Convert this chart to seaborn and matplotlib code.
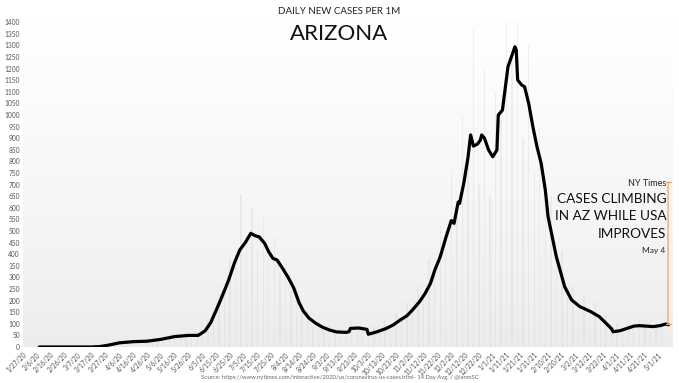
import numpy as np
import pandas as pd
import matplotlib
matplotlib.use("Agg")
import matplotlib.pyplot as plt
import seaborn as sns
from matplotlib.colors import LinearSegmentedColormap

# ---------------- data ----------------
start_date = "2020-01-27"
tick_labels = ["1/27/20", "2/6/20", "2/16/20", "2/26/20", "3/7/20", "3/17/20", "3/27/20",
               "4/6/20", "4/16/20", "4/26/20", "5/6/20", "5/16/20", "5/26/20", "6/5/20",
               "6/15/20", "6/25/20", "7/5/20", "7/15/20", "7/25/20", "8/4/20", "8/14/20",
               "8/24/20", "9/3/20", "9/13/20", "9/23/20", "10/3/20", "10/13/20", "10/23/20",
               "11/2/20", "11/12/20", "11/22/20", "12/2/20", "12/12/20", "12/22/20", "1/1/21",
               "1/11/21", "1/21/21", "1/31/21", "2/10/21", "2/20/21", "3/2/21", "3/12/21",
               "3/22/21", "4/1/21", "4/11/21", "4/21/21", "5/1/21"]
y_ticks = list(range(0, 1401, 50))

line_dates = ["2020-02-08", "2020-03-17", "2020-03-23", "2020-03-29", "2020-04-06", "2020-04-16",
              "2020-04-26", "2020-05-06", "2020-05-16", "2020-05-26", "2020-06-02", "2020-06-07",
              "2020-06-11", "2020-06-15", "2020-06-19", "2020-06-24", "2020-06-28", "2020-07-02",
              "2020-07-06", "2020-07-10", "2020-07-13", "2020-07-16", "2020-07-20", "2020-07-23",
              "2020-07-26", "2020-07-29", "2020-08-02", "2020-08-06", "2020-08-10", "2020-08-14",
              "2020-08-17", "2020-08-21", "2020-08-26", "2020-08-31", "2020-09-05", "2020-09-10",
              "2020-09-17", "2020-09-19", "2020-09-20", "2020-09-26", "2020-10-02", "2020-10-03",
              "2020-10-09", "2020-10-16", "2020-10-21", "2020-10-26", "2020-10-31", "2020-11-04",
              "2020-11-09", "2020-11-13", "2020-11-17", "2020-11-20", "2020-11-24", "2020-11-28",
              "2020-12-02", "2020-12-04", "2020-12-07", "2020-12-08", "2020-12-11", "2020-12-14",
              "2020-12-16", "2020-12-18", "2020-12-21", "2020-12-23", "2020-12-24", "2020-12-26",
              "2020-12-29", "2021-01-01", "2021-01-04", "2021-01-05", "2021-01-08", "2021-01-12",
              "2021-01-15", "2021-01-17", "2021-01-18", "2021-01-19", "2021-01-22", "2021-01-24",
              "2021-01-27", "2021-01-30", "2021-02-02", "2021-02-05", "2021-02-08", "2021-02-10",
              "2021-02-11", "2021-02-16", "2021-02-22", "2021-02-27", "2021-03-05", "2021-03-13",
              "2021-03-19", "2021-03-24", "2021-03-28", "2021-03-29", "2021-04-03", "2021-04-08",
              "2021-04-13", "2021-04-17", "2021-04-27", "2021-05-02", "2021-05-06", "2021-05-08"]
line_values = [0, 0, 2, 8, 18, 23,
               25, 33, 45, 50, 50, 70,
               105, 159, 215, 289, 360, 418,
               450, 490, 480, 475, 447, 410,
               382, 375, 339, 300, 255, 190,
               155, 125, 102, 85, 73, 65,
               63, 66, 80, 82, 76, 55,
               65, 80, 95, 116, 135, 160,
               195, 230, 275, 330, 389, 470,
               545, 533, 625, 619, 705, 813,
               914, 866, 875, 892, 914, 900,
               849, 820, 849, 1000, 1021, 1208,
               1259, 1294, 1280, 1151, 1129, 1122,
               1050, 950, 863, 792, 677, 562,
               533, 389, 260, 203, 174, 152,
               131, 102, 78, 66, 70, 80,
               90, 92, 88, 92, 99, 96]

# daily-report spikes (sampled every 2 days from bar_start)
bar_start = "2020-03-13"
bar_values = [0, 1, 2, 5, 10, 15, 25, 15, 28, 20, 30, 22, 35, 28, 45, 30, 60, 40, 65, 45,
              70, 55, 120, 130, 230, 260, 380, 420, 660, 480, 600, 420, 560, 380, 470, 320,
              380, 240, 260, 150, 160, 90, 120, 70, 95, 55, 85, 60, 110, 70, 95, 40, 90, 70,
              110, 85, 150, 110, 190, 160, 260, 220, 380, 330, 520, 450, 760, 600, 1000, 850,
              1380, 700, 1200, 650, 1100, 980, 1400, 1250, 1400, 900, 1300, 750, 950, 600,
              650, 380, 420, 230, 260, 160, 220, 130, 190, 110, 140, 60, 100, 70, 110, 80,
              120, 85, 115, 90, 110]
bar_step_days = 4

title_small = "DAILY NEW CASES PER 1M"
title_big = "ARIZONA"
note_lines = ["CASES CLIMBING", "IN AZ WHILE USA", "IMPROVES"]
note_top = "NY Times"
note_bottom = "May 4"
source = ("Source: https://www.nytimes.com/interactive/2020/us/coronavirus-us-cases.html- "
          "14 Day Avg. / @ianmSC")

# ---------------- build frames ----------------
t0 = pd.Timestamp(start_date)
line_df = pd.DataFrame({"day": (pd.to_datetime(line_dates) - t0).days, "value": line_values})
bar_dates = pd.date_range(bar_start, periods=len(bar_values), freq=f"{bar_step_days}D")
bar_df = pd.DataFrame({"day": (bar_dates - t0).days, "value": bar_values})

sns.set_theme(style="white")
plt.rcParams["font.family"] = ["Lato", "DejaVu Sans"]

fig = plt.figure(figsize=(6.79, 3.83), dpi=100)
ax = fig.add_axes([0.0334, 0.094, 0.956, 0.854])

xmin, xmax = 0, 469.5
ymin, ymax = 0, 1410
# gradient background
cmap = LinearSegmentedColormap.from_list("bg", ["#ececec", "#ffffff"])
grad = np.linspace(0, 1, 256).reshape(-1, 1) ** 0.8
ax.imshow(grad, cmap=cmap, aspect="auto", extent=[xmin, xmax, ymin, ymax],
          origin="lower", zorder=0, vmin=0, vmax=1)

ax.bar(bar_df["day"], bar_df["value"], width=1.0, color="#d6d6d6", alpha=0.35,
       linewidth=0, zorder=1)
sns.lineplot(data=line_df, x="day", y="value", ax=ax, color="black", linewidth=2.3,
             zorder=3, legend=False)

ax.set_xlim(xmin, xmax)
ax.set_ylim(ymin, ymax)
ax.set_xticks(np.arange(len(tick_labels)) * 10)
ax.set_xticklabels(tick_labels, rotation=45, ha="right", rotation_mode="anchor",
                   fontsize=4.8, color="#555555")
ax.set_yticks(y_ticks)
ax.set_yticklabels([str(v) for v in y_ticks], fontsize=4.8, color="#555555")
ax.tick_params(axis="both", length=0, pad=2)
ax.tick_params(axis="x", pad=3)
ax.set_xlabel("")
ax.set_ylabel("")
for s in ax.spines.values():
    s.set_visible(False)

# annotation bracket
ann_x = 466.8
ax.annotate("", xy=(ann_x, line_values[-1] + 4), xytext=(ann_x, 712),
            arrowprops=dict(arrowstyle="|-|,widthA=0.15,widthB=0.15", color="#f4a261",
                            lw=0.9, shrinkA=0, shrinkB=0), zorder=4)

tx = 0.9815
fig.text(tx, 1 - 183 / 383, note_top, ha="right", va="center", fontsize=6.5, color="#222222")
for i, ln in enumerate(note_lines):
    fig.text(tx, 1 - (199 + 17.5 * i) / 383, ln, ha="right", va="center",
             fontsize=9.8, color="#111111")
fig.text(tx - 0.002, 1 - 250 / 383, note_bottom, ha="right", va="center", fontsize=6,
         color="#222222")

fig.text(0.5, 1 - 12 / 383, title_small, ha="center", va="center", fontsize=7,
         color="#222222")
fig.text(0.5, 1 - 34 / 383, title_big, ha="center", va="center", fontsize=16,
         color="#111111")
fig.text(0.5, 1 - 378 / 383, source, ha="center", va="center", fontsize=4.2,
         color="#666666")

fig.savefig("out.png", dpi=100)
